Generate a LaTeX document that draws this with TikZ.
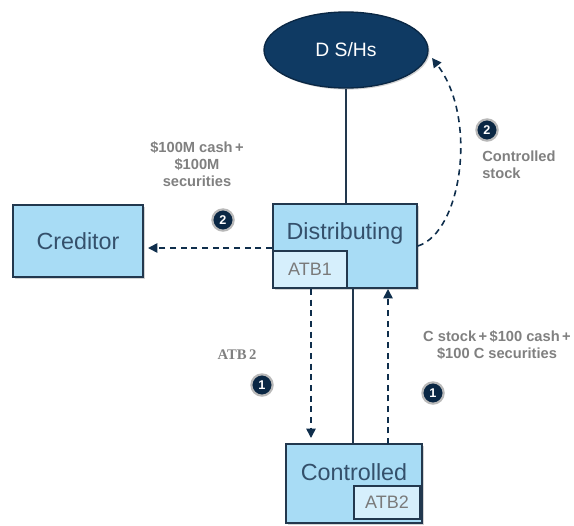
\documentclass[tikz,border=0pt]{standalone}
\usepackage{fontspec}
\setmainfont{Liberation Sans}
\newfontfamily\serifb{Liberation Serif}
\usetikzlibrary{shapes.geometric,arrows.meta,shadows}
\definecolor{boxfill}{HTML}{A8DCF5}
\definecolor{boxline}{HTML}{22384E}
\definecolor{boxtext}{HTML}{34506B}
\definecolor{subfill}{HTML}{D6EFFC}
\definecolor{subtext}{HTML}{7A7A7A}
\definecolor{navy}{HTML}{0F3A63}
\definecolor{navyd}{HTML}{0A2744}
\definecolor{arrowc}{HTML}{0F2E4C}
\definecolor{labelc}{HTML}{808080}
\tikzset{
  mainbox/.style={draw=boxline, line width=1.3pt, fill=boxfill, inner sep=0pt,
    drop shadow={opacity=0.35, shadow xshift=1.2pt, shadow yshift=-1.2pt}},
  subbox/.style={draw=boxline, line width=0.9pt, fill=subfill, inner sep=0pt,
    text=subtext, font=\fontsize{13.5}{16}\selectfont},
  boxlabel/.style={text=boxtext, font=\fontsize{17.5}{20}\selectfont, inner sep=0pt},
  steplabel/.style={text=labelc, font=\fontsize{11}{13}\selectfont\bfseries, align=center, inner sep=0pt},
  badge/.style={circle, fill=navyd, draw=gray!55, line width=1.6pt, minimum size=16pt, inner sep=0pt,
    text=white, font=\fontsize{9.5}{10}\selectfont\bfseries},
  flow/.style={draw=arrowc, line width=1.2pt, dash pattern=on 4.5pt off 3.5pt, -{Triangle[length=7pt,width=7pt]}},
  tie/.style={draw=boxline, line width=0.8pt}
}
\begin{document}
\begin{tikzpicture}[x=0.75pt,y=-0.75pt]
\useasboundingbox (0,0) rectangle (574,525);
% ellipse
\node[ellipse, draw=navyd, line width=1pt, fill=navy, minimum width=123pt, minimum height=57pt,
  text=white, font=\fontsize{14.5}{17}\selectfont,
  drop shadow={opacity=0.35, shadow xshift=1.2pt, shadow yshift=-1.2pt}] (dsh) at (346,50) {D S/Hs};
% boxes
\node[mainbox, minimum width=108pt, minimum height=63pt] (dist) at (345,246) {};
\node[boxlabel] (distt) at (345,233) {Distributing};
\node[subbox, minimum width=55.5pt, minimum height=27.75pt] (atb1) at (310,269.5) {ATB1};
\node[mainbox, minimum width=97.5pt, minimum height=54pt] (cred) at (78,241) {};
\node[boxlabel] (credt) at (78,241) {Creditor};
\node[mainbox, minimum width=102pt, minimum height=59.25pt] (ctrl) at (354,483.5) {};
\node[boxlabel] (ctrlt) at (354,472) {Controlled};
\node[subbox, minimum width=49.5pt, minimum height=24.75pt] (atb2) at (387,502.5) {ATB2};
% connectors
\draw[tie] (dsh.south) -- (dsh.south |- dist.north);
\draw[tie] (353,288) coordinate (dbot) -- (dbot |- ctrl.north);
\coordinate (credin) at (148,248);
\draw[flow] (dist.west |- credin) -- (credin);
\coordinate (dshin) at (432,58);
\draw[flow] (dist.east) .. controls (462,232) and (478,118) .. (dshin);
\coordinate (dn1) at (311,289);
\coordinate (dn2) at (311,438);
\draw[flow] (dn1) -- (dn2);
\coordinate (up1) at (388,444);
\coordinate (up2) at (388,289);
\draw[flow] (up1) -- (up2);
% labels
\node[steplabel] (l1) at (197,164) {\$100M cash\,+\\\$100M\\securities};
\node[badge] (b1) at (223,220) {2};
\node[badge] (b2) at (487,130) {2};
\node[steplabel, align=left, anchor=west] (l2) at (482,165) {Controlled\\stock};
\node[text=labelc, font=\fontsize{11}{13}\selectfont\serifb\bfseries, inner sep=0pt] (l3) at (237,355) {ATB\,2};
\node[badge] (b3) at (262,385) {1};
\node[steplabel] (l4) at (497,345) {C stock\,+\,\$100 cash\,+\\\$100 C securities};
\node[badge] (b4) at (433,393) {1};
\end{tikzpicture}
\end{document}
